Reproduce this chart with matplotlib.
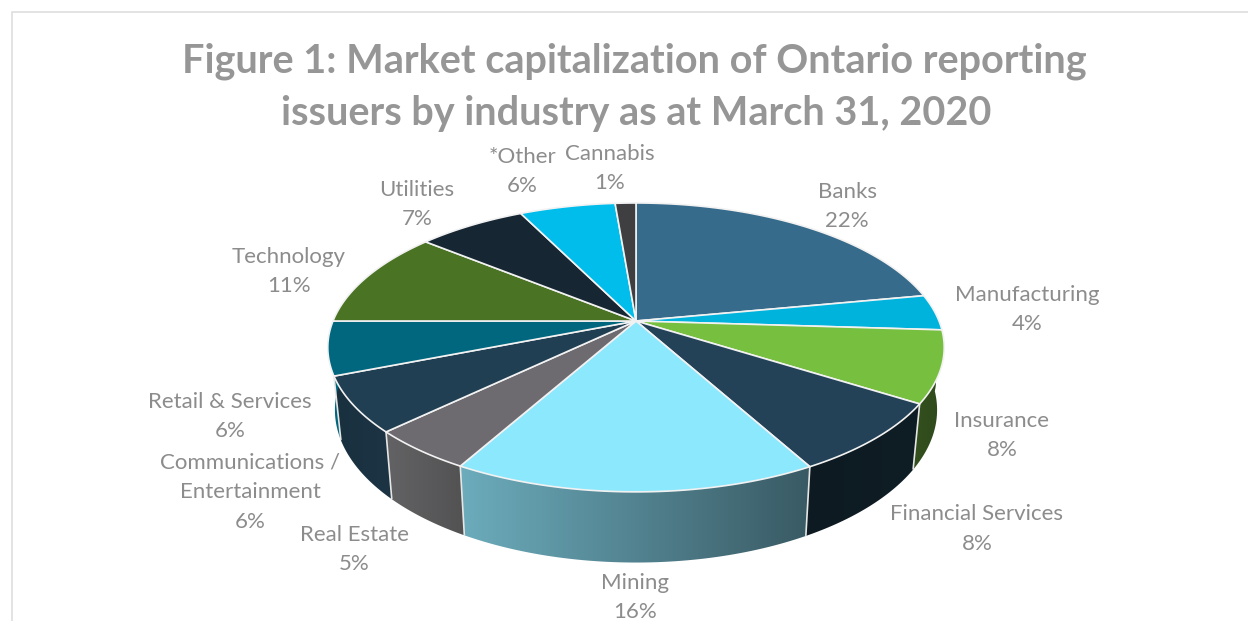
import numpy as np
import matplotlib
matplotlib.use('Agg')
import matplotlib.pyplot as plt
from matplotlib.colors import LinearSegmentedColormap
from matplotlib.patches import Polygon

industries = ['Banks', 'Manufacturing', 'Insurance', 'Financial Services', 'Mining', 'Real Estate',
              'Communications /\nEntertainment', 'Retail & Services', 'Technology', 'Utilities', '*Other', 'Cannabis']
# slice sizes; the labels show them rounded
shares = [22, 4, 8, 8, 16.1, 4.7, 6.2, 6, 10.9, 6.8, 6, 1.3]

top_colors = ['#376b8b', '#00b3dd', '#77bf3f', '#234257', '#8ce8fc', '#6d6a70',
              '#213f52', '#00677f', '#4a7324', '#162733', '#00bdec', '#3f3f42']
# left/right shade of the outer wall of each slice
wall_colors = {
    1: ('#2f4c1a', '#2f4c1a'),
    2: ('#34501e', '#2e491b'),
    3: ('#0d1a22', '#0f1d25'),
    4: ('#6cacbc', '#395a64'),
    5: ('#636365', '#525253'),
    6: ('#19303f', '#1c3444'),
    7: ('#00677f', '#00677f'),
}
label_pos = [(847, 206.5), (1027, 309.5), (1002, 435.5), (977, 529), (635, 597.5), (354, 549.5),
             (250, 492), (230, 416.5), (289, 271.5), (417, 204.5), (522, 171.5), (610, 168.5)]

KEEP = 0.183
CX = 636


def top_ring(deg):
    t = np.radians(deg)
    u, v = np.sin(t), -np.cos(t)
    d = 1 - KEEP * v
    return CX + 303 * u / d, 321 + 139.6 * v / d


def bottom_ring(deg):
    t = np.radians(deg)
    u, v = np.sin(t), -np.cos(t)
    d = 1 - KEEP * v
    return CX + 296 * u / d, 382 + 147.5 * v / d


fig = plt.figure(figsize=(12.48, 6.21), dpi=100)
ax = fig.add_axes([0, 0, 1, 1])
ax.set_xlim(0, 1248)
ax.set_ylim(621, 0)
ax.axis('off')

# chart frame, cut off by the screenshot at the bottom and right
ax.plot([12, 12, 1248], [621, 12, 12], color='#e0e0e0', lw=1.3, zorder=1)

ends = np.cumsum(shares) * 3.6
starts = ends - np.array(shares) * 3.6

# outer walls, front half only
for i in wall_colors:
    a0, a1 = max(starts[i], 90), min(ends[i], 270)
    if a1 <= a0:
        continue
    ang = np.linspace(a0, a1, 60)
    tx, ty = top_ring(ang)
    bx, by = bottom_ring(ang)
    xs = np.r_[tx, bx[::-1]]
    ys = np.r_[ty, by[::-1]]
    cmap = LinearSegmentedColormap.from_list('w', list(wall_colors[i]))
    im = ax.imshow(np.linspace(0, 1, 256)[None, :], cmap=cmap, aspect='auto', zorder=2,
                   extent=(xs.min(), xs.max(), ys.max(), ys.min()))
    im.set_clip_path(Polygon(np.c_[xs, ys], transform=ax.transData))
ax.set_xlim(0, 1248)
ax.set_ylim(621, 0)

# white seams between walls
for i in range(len(shares)):
    if 100 < ends[i] < 260:
        tx, ty = top_ring(ends[i])
        bx, by = bottom_ring(ends[i])
        ax.plot([tx, bx], [ty, by], color='#e6e6e6', lw=1.2, zorder=3, solid_capstyle='butt')

# top face
for i in range(len(shares)):
    ang = np.linspace(starts[i], ends[i], 80)
    tx, ty = top_ring(ang)
    xy = np.c_[np.r_[CX, tx], np.r_[321, ty]]
    ax.add_patch(Polygon(xy, closed=True, facecolor=top_colors[i], edgecolor='#f2f2f2', lw=1.2,
                         joinstyle='round', zorder=4))

title_color = '#969696'
ax.text(634.5, 61, 'Figure 1: Market capitalization of Ontario reporting', ha='center', va='center',
        fontsize=28.5, fontweight='bold', family='Lato', color=title_color)
ax.text(636, 113, 'issuers by industry as at March 31, 2020', ha='center', va='center',
        fontsize=28.5, fontweight='bold', family='Lato', color=title_color)

for name, share, (x, y) in zip(industries, shares, label_pos):
    ax.text(x, y, f'{name}\n{round(share)}%', ha='center', va='center', fontsize=16, family='Lato',
            color='#8c8c8c', linespacing=1.62)

fig.savefig('out.png', dpi=100)
